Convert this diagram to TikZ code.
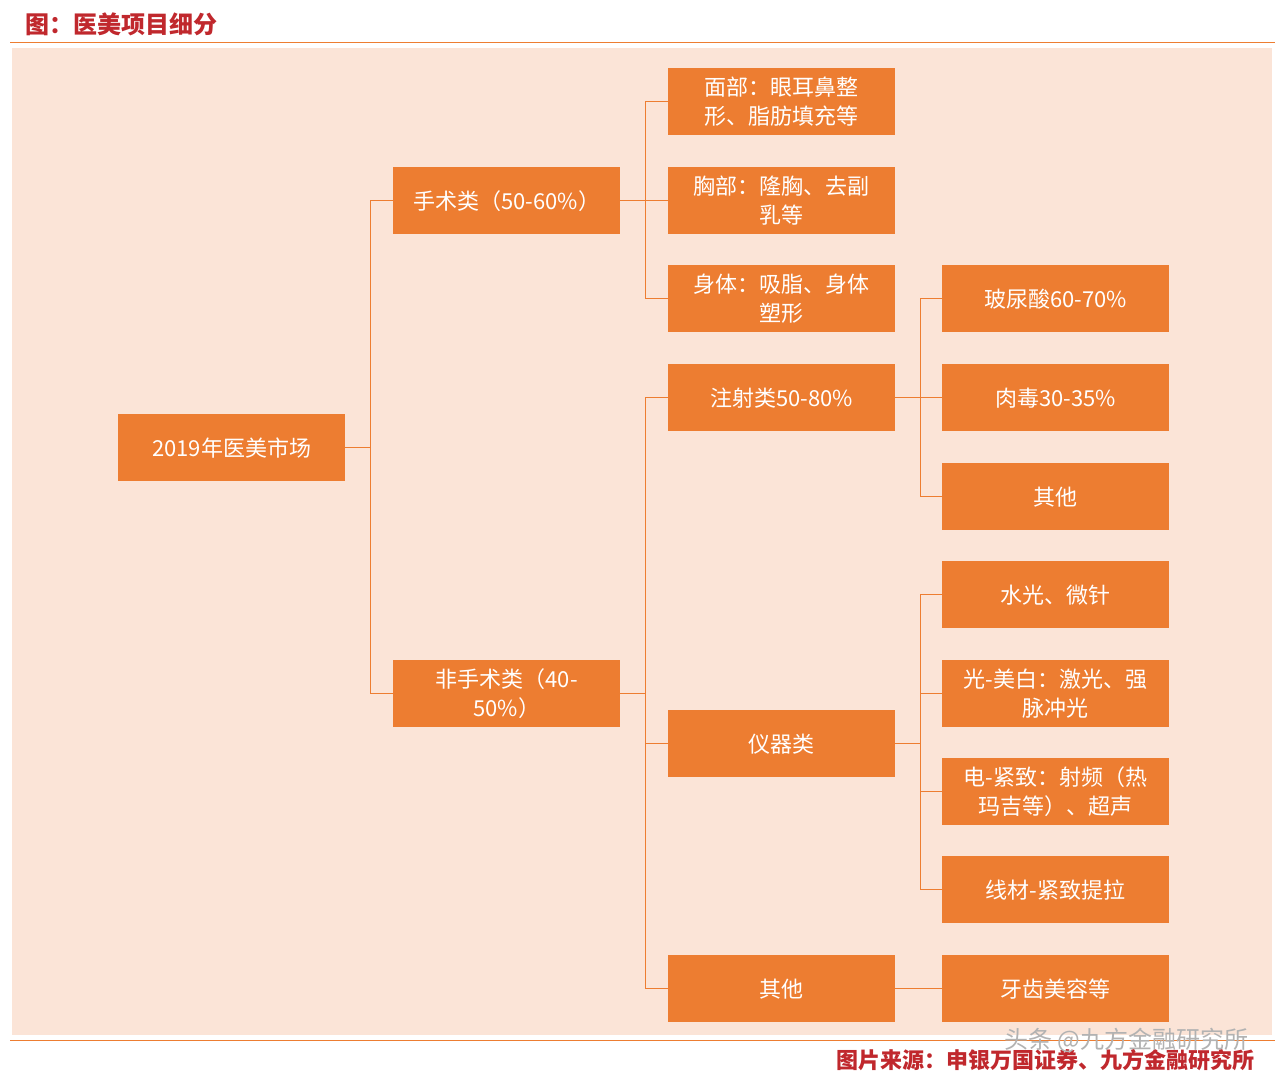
\documentclass[tikz,border=0pt]{standalone}
\usepackage{fontspec}
\setmainfont{Noto Sans CJK SC}
\definecolor{bx}{HTML}{ED7D31}
\definecolor{bg}{HTML}{FBE4D7}
\definecolor{ttl}{HTML}{C0282D}
\begin{document}
\begin{tikzpicture}[x=1pt,y=-1pt,
 box/.style={fill=bx,draw=none,text=white,minimum width=227pt,minimum height=67pt,inner sep=2pt,text width=215pt,align=center,font=\fontsize{22}{29}\selectfont,anchor=north west},
 ln/.style={draw=bx,line width=1.5pt}]
\useasboundingbox (0,0) rectangle (1280,1084);
\fill[white] (0,0) rectangle (1280,1084);
\fill[bg] (12,48) rectangle (1272,1035);
\draw[bx,line width=1pt] (10,42) -- (1275,42);
\draw[bx,line width=1pt] (10,1040) -- (1275,1040);
\node[anchor=west,text=ttl,font=\fontsize{24}{28}\selectfont\bfseries] (title) at (22,24) {图：医美项目细分};
\node[anchor=east,text=ttl,font=\fontsize{22}{26}\selectfont\bfseries] (src) at (1258,1060) {图片来源：申银万国证券、九方金融研究所};
\node[anchor=east,text=gray!60,font=\fontsize{24}{28}\selectfont] (wm) at (1252,1040) {头条 @九方金融研究所};
\node[box] (root) at (118,414) {2019年医美市场};
\node[box] (ss) at (393,167) {手术类（50-60\%）};
\node[box] (fss) at (393,660) {非手术类（40-\\50\%）};
\node[box] (mb) at (668,68) {面部：眼耳鼻整\\形、脂肪填充等};
\node[box] (xb) at (668,167) {胸部：隆胸、去副\\乳等};
\node[box] (st) at (668,265) {身体：吸脂、身体\\塑形};
\node[box] (zs) at (668,364) {注射类50-80\%};
\node[box] (yq) at (668,710) {仪器类};
\node[box] (qt) at (668,955) {其他};
\node[box] (nsj) at (942,265) {玻尿酸60-70\%};
\node[box] (rd) at (942,364) {肉毒30-35\%};
\node[box] (qt2) at (942,463) {其他};
\node[box] (sg) at (942,561) {水光、微针};
\node[box] (gmb) at (942,660) {光-美白：激光、强\\脉冲光};
\node[box] (djz) at (942,758) {电-紧致：射频（热\\玛吉等）、超声};
\node[box] (xc) at (942,856) {线材-紧致提拉};
\node[box] (yc) at (942,955) {牙齿美容等};
\foreach \p/\c in {root/ss,root/fss,ss/mb,ss/xb,ss/st,fss/zs,fss/yq,fss/qt,zs/nsj,zs/rd,zs/qt2,yq/sg,yq/gmb,yq/djz,yq/xc}
 \draw[ln] (\p.east) -- ++(25,0) |- (\c.west);
\draw[ln] (qt.east) -- (yc.west);
\end{tikzpicture}
\end{document}
